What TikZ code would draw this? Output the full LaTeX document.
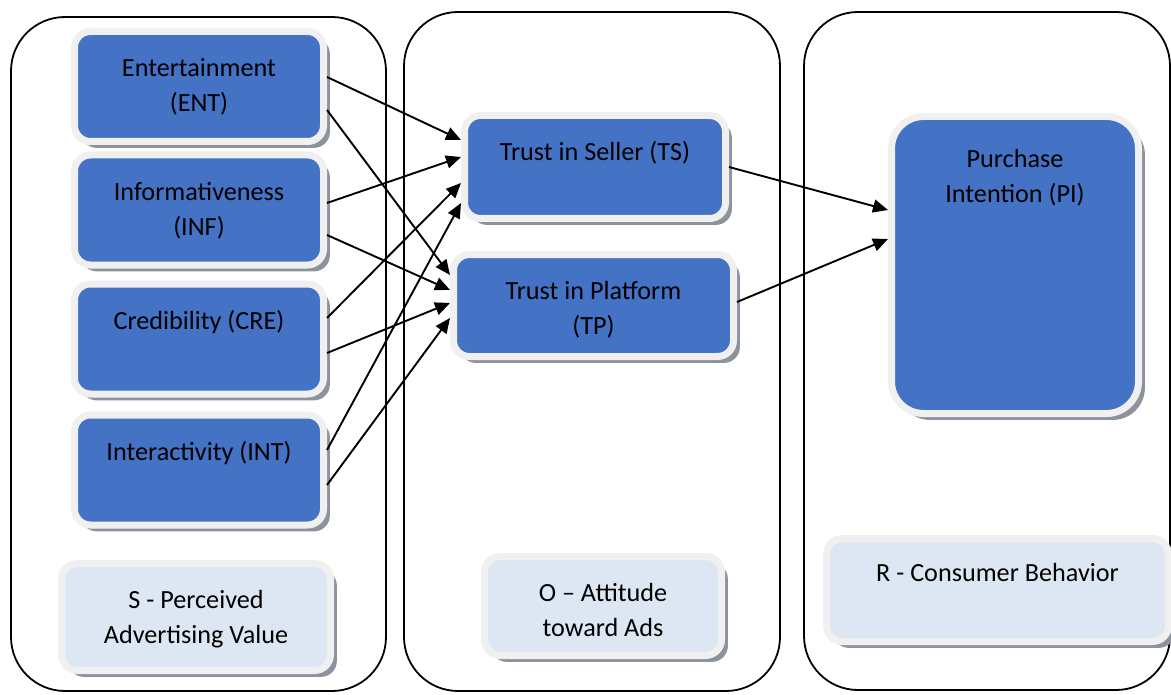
\documentclass[tikz,border=0pt]{standalone}
\usepackage{fontspec}
\setmainfont{Carlito}
\usetikzlibrary{shadows,arrows.meta}

\definecolor{boxblue}{HTML}{4472C4}
\definecolor{boxrim}{HTML}{F0F0F0}
\definecolor{boxshade}{HTML}{8C939D}
\definecolor{stagefill}{HTML}{DDE7F4}
\newcommand\capstrut{\rule{0pt}{12pt}}

\begin{document}
\begin{tikzpicture}[
  x=0.5pt,y=-0.5pt,
  >={Triangle[length=7.5pt,width=6.5pt]},
  font=\fontsize{13.1pt}{17.5pt}\selectfont,
  panel/.style={draw,line width=0.9pt,rounded corners=27pt},
  factor/.style={draw=boxrim,line width=3.5pt,fill=boxblue,rounded corners=8pt,
    drop shadow={shadow xshift=3.2pt,shadow yshift=-3.2pt,fill=boxshade,opacity=1}},
  stage/.style={factor,fill=stagefill},
  caption/.style={anchor=north,inner sep=0pt,yshift=-12.2pt,align=center},
  flow/.style={->,line width=0.95pt}
]
  \useasboundingbox (0,0) rectangle (1171,695);

  \node[panel,minimum width=187.5pt,minimum height=337pt] (panelS) at (198.5,354) {};
  \node[panel,minimum width=188pt,minimum height=339.5pt] (panelO) at (592,351.5) {};
  \node[panel,minimum width=183pt,minimum height=339pt] (panelR) at (987,351) {};

  \node[factor,minimum width=124.5pt,minimum height=55pt,
    label={[caption]north:{\capstrut Entertainment\\(ENT)}}] (ENT) at (199,86.5) {};
  \node[factor,minimum width=124.5pt,minimum height=55pt,
    label={[caption]north:{\capstrut Informativeness\\(INF)}}] (INF) at (199,210) {};
  \node[factor,minimum width=124.5pt,minimum height=55pt,
    label={[caption]north:{\capstrut Credibility (CRE)}}] (CRE) at (199,339) {};
  \node[factor,minimum width=124.5pt,minimum height=55pt,
    label={[caption]north:{\capstrut Interactivity (INT)}}] (INT) at (199,470) {};
  \node[stage,minimum width=134.5pt,minimum height=53.5pt,
    label={[caption]north:{\capstrut S - Perceived\\Advertising Value}}] (stageS) at (196,617) {};

  \node[factor,minimum width=130.5pt,minimum height=51.5pt,
    label={[caption]north:{\capstrut Trust in Seller (TS)}}] (TS) at (595,167) {};
  \node[factor,minimum width=140pt,minimum height=51pt,
    label={[caption]north:{\capstrut Trust in Platform\\(TP)}}] (TP) at (593.5,305.5) {};
  \node[stage,minimum width=118.5pt,minimum height=49.5pt,
    label={[caption]north:{\capstrut O – Attitude\\toward Ads}}] (stageO) at (603,606) {};

  \node[factor,rounded corners=16pt,minimum width=123.5pt,minimum height=148.5pt,
    label={[caption,yshift=-3pt]north:{\capstrut Purchase\\Intention (PI)}}] (PI) at (1015,265) {};
  \node[stage,minimum width=171pt,minimum height=51.5pt,
    label={[caption,yshift=1pt]north:{\capstrut R - Consumer Behavior}}] (stageR) at (997.5,590) {};

  \draw[flow] ([yshift=4.75pt]ENT.east) -- ([yshift=13.5pt]TS.west);
  \draw[flow] ([yshift=-11.75pt]ENT.east) -- ([yshift=15.25pt]TP.west);
  \draw[flow] ([yshift=3.5pt]INF.east) -- ([yshift=5pt]TS.west);
  \draw[flow] ([yshift=-12.5pt]INF.east) -- ([yshift=7.75pt]TP.west);
  \draw[flow] ([yshift=10.5pt]CRE.east) -- ([yshift=-8pt]TS.west);
  \draw[flow] ([yshift=-7pt]CRE.east) -- ([yshift=1.25pt]TP.west);
  \draw[flow] ([yshift=10pt]INT.east) -- ([yshift=-18pt]TS.west);
  \draw[flow] ([yshift=-7.5pt]INT.east) -- ([yshift=-6.25pt]TP.west);
  \draw[flow] (TS.east) -- ([yshift=27.5pt]PI.west);
  \draw[flow] ([yshift=1.75pt]TP.east) -- ([yshift=13pt]PI.west);
\end{tikzpicture}
\end{document}
